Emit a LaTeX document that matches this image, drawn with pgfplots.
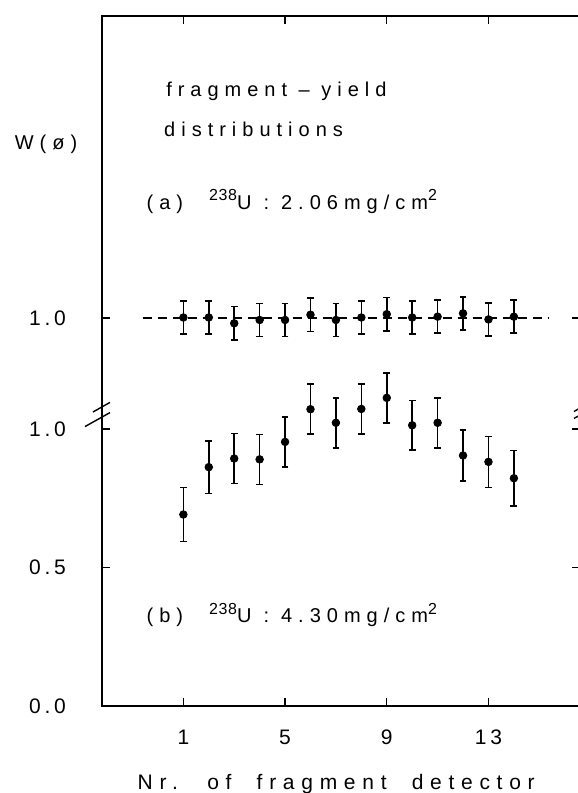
\documentclass[border=0pt]{standalone}
\usepackage{fontspec}
\setmainfont{Liberation Sans}[LetterSpace=18]
\newfontfamily\annfont{Liberation Sans}[LetterSpace=30]
\newfontfamily\widefont{Liberation Sans}[LetterSpace=32]
\newfontfamily\supfont{Liberation Sans}[LetterSpace=4]
\usepackage{pgfplots}
\usepackage{pgfplotstable}
\pgfplotsset{compat=1.18}

\newcommand{\sups}[1]{\raisebox{0.42em}{\supfont\fontsize{8}{8}\selectfont #1}}

% (a) 2.06 mg/cm^2, drawn 0.4 higher (broken axis)
\pgfplotstableread{
x  w      e
1  1.002  0.060
2  1.002  0.060
3  0.981  0.060
4  0.993  0.060
5  0.993  0.060
6  1.012  0.060
7  0.993  0.060
8  1.002  0.060
9  1.014  0.060
10 1.002  0.060
11 1.005  0.060
12 1.017  0.060
13 0.995  0.060
14 1.005  0.060
}\dataA

% (b) 4.30 mg/cm^2
\pgfplotstableread{
x  w      e
1  0.691  0.098
2  0.862  0.095
3  0.893  0.090
4  0.890  0.090
5  0.953  0.090
6  1.071  0.090
7  1.022  0.090
8  1.072  0.090
9  1.112  0.090
10 1.013  0.090
11 1.022  0.090
12 0.904  0.092
13 0.881  0.092
14 0.822  0.100
}\dataB

\begin{document}
\begin{tikzpicture}
\begin{axis}[
  scale only axis, width=239pt, height=345pt,
  xmin=-2.2, xmax=16.6, ymin=0, ymax=2.49,
  xtick={1,5,9,13},
  ytick={0,0.5,1,1.4}, yticklabels={0.0,0.5,1.0,1.0},
  ticklabel pos=left,
  tick align=inside, major tick length=4pt,
  tick style={black, line width=0.7pt},
  axis line style={black, line width=0.8pt},
  /pgf/number format/assume math mode=true,
  font=\fontsize{10.5}{12}\selectfont,
  yticklabel style={xshift=-14.5pt},
  xticklabel style={yshift=-8.5pt},
  clip=false,
]
\coordinate (sw) at (rel axis cs:0,0);
\coordinate (ne) at (rel axis cs:1,1);

\addplot[black, line width=0.7pt, dash pattern=on 4.5pt off 3pt]
  coordinates {(-0.6,1.4) (15.4,1.4)};

\addplot[black, only marks, mark=*, mark size=1.9pt,
  error bars/.cd, y dir=both, y explicit,
  error bar style={line width=0.8pt},
  error mark options={black, rotate=90, line width=0.8pt, mark size=1.7pt}]
  table[x=x, y expr=\thisrow{w}+0.4, y error=e] {\dataA};

\addplot[black, only marks, mark=*, mark size=1.9pt,
  error bars/.cd, y dir=both, y explicit,
  error bar style={line width=0.8pt},
  error mark options={black, rotate=90, line width=0.8pt, mark size=1.7pt}]
  table[x=x, y=w, y error=e] {\dataB};

% axis break marks
\draw[line width=0.7pt] ([xshift=-8.5pt,yshift=-4.8pt]axis cs:-2.2,1.043) -- ++(12.5pt,7pt);
\draw[line width=0.7pt] ([xshift=-4.5pt,yshift=-2.5pt]axis cs:-2.2,1.079) -- ++(8.5pt,4.8pt);
\draw[line width=0.7pt] ([xshift=-3pt,yshift=-1.7pt]axis cs:16.6,1.05) -- ++(6pt,3.4pt);
\draw[line width=0.7pt] ([xshift=-3pt,yshift=-1.7pt]axis cs:16.6,1.075) -- ++(6pt,3.4pt);

\node[anchor=west, font=\annfont] at (axis cs:0.05,2.217) {fragment \textendash{} yield};
\node[anchor=west, font=\annfont] at (axis cs:-0.03,2.08) {distributions};
\node[anchor=west, font=\annfont] at (axis cs:-0.72,1.821)
  {(a)\hspace{1.3em}\sups{238}U\hspace{0.6em}:\hspace{0.6em}2.06mg/cm\sups{2}};
\node[anchor=west, font=\annfont] at (axis cs:-0.72,0.328)
  {(b)\hspace{1.3em}\sups{238}U\hspace{0.6em}:\hspace{0.6em}4.30mg/cm\sups{2}};
\node[font=\annfont] at ([xshift=-28pt]axis cs:-2.2,2.026) {W(ø)};
\node at ([yshift=-39pt]rel axis cs:0.49,0)
  {\widefont Nr.\hspace{0.6em} of\hspace{0.6em} fragment\hspace{0.6em} detector};
\end{axis}
\pgfresetboundingbox
\path[use as bounding box] ([xshift=-51pt,yshift=-43.5pt]sw) rectangle ([xshift=-1pt,yshift=8pt]ne);
\end{tikzpicture}
\end{document}
